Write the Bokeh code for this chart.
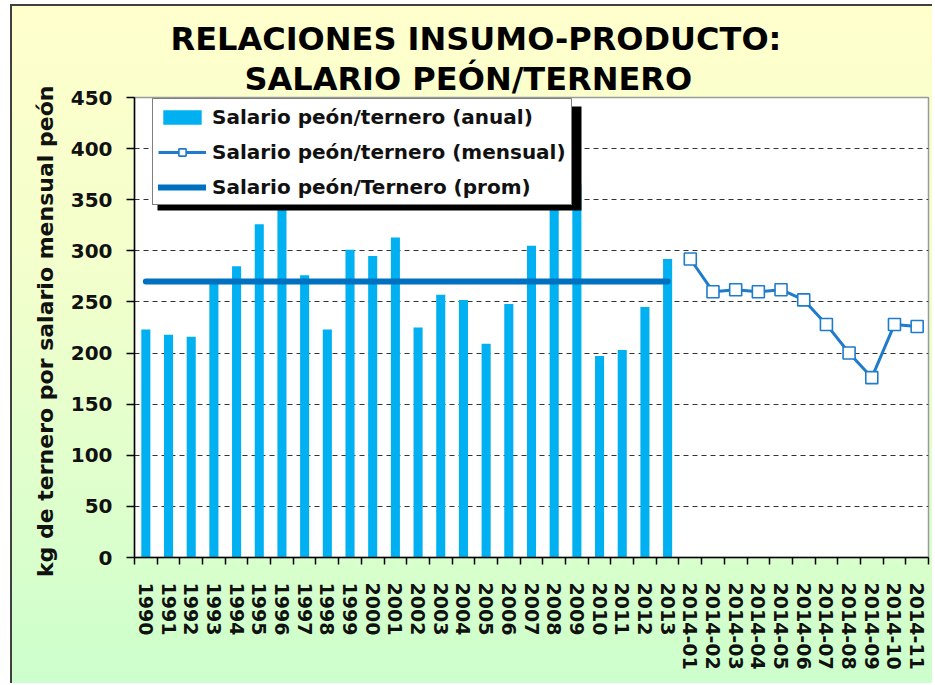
import numpy as np
from bokeh.plotting import figure
from bokeh.models import (Range1d, LinearAxis, FixedTicker, Legend, Title,
                          LegendItem, BoxAnnotation, InlineStyleSheet)
from bokeh.embed import file_html
from bokeh.resources import INLINE

# ---------------- data ----------------
years = [str(y) for y in range(1990, 2014)]
annual = [223, 218, 216, 268, 285, 326, 360, 276, 223, 301, 295, 313,
          225, 257, 252, 209, 248, 305, 380, 365, 197, 203, 245, 292]
months = ["2014-01", "2014-02", "2014-03", "2014-04", "2014-05", "2014-06",
          "2014-07", "2014-08", "2014-09", "2014-10", "2014-11"]
monthly = [292, 260, 262, 260, 262, 252, 228, 200, 176, 228, 226]
average = 270
categories = years + months
y_ticks = [0, 50, 100, 150, 200, 250, 300, 350, 400, 450]

title_line1 = "RELACIONES INSUMO-PRODUCTO:"
title_line2 = "SALARIO PEÓN/TERNERO"
y_title = "kg de ternero por  salario mensual peón"
lbl_annual = "Salario peón/ternero (anual)"
lbl_monthly = "Salario peón/ternero (mensual)"
lbl_avg = "Salario peón/Ternero (prom)"

FONT = "DejaVu Sans"
BAR = "#00B0F0"
LINE = "#1F7BCB"
AVG = "#0070C0"

# category -> slot centre on the x axis
n = len(categories)
slot = {c: i + 0.5 for i, c in enumerate(categories)}
x_years = [slot[c] for c in years]
x_months = [slot[c] for c in months]

p = figure(width=932, height=683,
           x_range=Range1d(0, n), y_range=Range1d(0, 450),
           x_axis_location=None,
           output_backend="svg", toolbar_location=None,
           min_border_left=134, min_border_right=4, min_border_top=97, min_border_bottom=126)

p.stylesheets = [InlineStyleSheet(css=""":host {
  background:
    linear-gradient(#404040, #404040) 10px 4px / 2px 100% no-repeat,
    linear-gradient(#404040, #404040) 10px 4px / 100% 2px no-repeat,
    linear-gradient(to bottom, #FFFFCC 0%, #F2FFCC 40%, #CCFFCC 100%) 10px 4px / 100% 100% no-repeat,
    white;
}""")]
p.border_fill_alpha = 0
p.background_fill_color = "white"
p.outline_line_color = "#9a9a9a"
p.outline_line_width = 1.5

# two-line title
p.title.visible = False
p.add_layout(Title(text=title_line2, align="left", offset=110, standoff=0,
                   text_font=FONT, text_font_style="bold", text_font_size="32px",
                   text_color="black"), "above")
p.add_layout(Title(text=title_line1, align="left", offset=36, standoff=0,
                   text_font=FONT, text_font_style="bold", text_font_size="32px",
                   text_color="black"), "above")

# x axis: labels at slot centres, tick marks at slot boundaries
xaxis = LinearAxis(ticker=FixedTicker(ticks=[slot[c] for c in categories],
                                      minor_ticks=list(range(n + 1))),
                   major_label_overrides={slot[c]: c for c in categories},
                   major_label_orientation="vertical",
                   major_tick_in=0, major_tick_out=0,
                   minor_tick_in=0, minor_tick_out=7,
                   minor_tick_line_color="black", minor_tick_line_width=1.5,
                   axis_line_color="black", axis_line_width=1.5,
                   major_label_standoff=18,
                   major_label_text_font=FONT, major_label_text_font_style="bold",
                   major_label_text_font_size="19px", major_label_text_color="#111111")
p.add_layout(xaxis, "below")

# y axis
p.yaxis.ticker = FixedTicker(ticks=y_ticks)
p.yaxis.major_tick_in = 0
p.yaxis.major_tick_out = 8
p.yaxis.minor_tick_out = 0
p.yaxis.minor_tick_in = 0
p.yaxis.axis_line_color = "black"
p.yaxis.axis_line_width = 1.5
p.yaxis.major_tick_line_width = 1.5
p.yaxis.major_label_standoff = 14
p.yaxis.major_label_text_font = FONT
p.yaxis.major_label_text_font_style = "bold"
p.yaxis.major_label_text_font_size = "20px"
p.yaxis.major_label_text_color = "#111111"
p.yaxis.axis_label = y_title
p.yaxis.axis_label_standoff = 10
p.yaxis.axis_label_text_font = FONT
p.yaxis.axis_label_text_font_style = "bold"
p.yaxis.axis_label_text_font_size = "22px"
p.yaxis.axis_label_text_color = "#111111"

p.xgrid.visible = False
p.ygrid.ticker = FixedTicker(ticks=y_ticks)
p.ygrid.grid_line_color = "#333333"
p.ygrid.grid_line_dash = "5 4"
p.ygrid.grid_line_width = 1.2

# glyphs
bars = p.vbar(x=x_years, top=annual, width=0.4, fill_color=BAR, line_color=None)
avg = p.line(x=x_years, y=[average] * len(years), line_color=AVG, line_width=6, line_cap="round")
mline = p.line(x=x_months, y=monthly, line_color=LINE, line_width=3)
mpts = p.scatter(x=x_months, y=monthly, marker="square", size=12, fill_color="white",
                 line_color=LINE, line_width=1.6)

# legend shadow
shadow = BoxAnnotation(left=23, right=23 + 424, bottom=347, top=347 + 104,
                       left_units="screen", right_units="screen",
                       bottom_units="screen", top_units="screen",
                       fill_color="black", fill_alpha=1, line_alpha=0)
p.add_layout(shadow)

legend = Legend(items=[LegendItem(label=lbl_annual, renderers=[bars]),
                       LegendItem(label=lbl_monthly, renderers=[mline, mpts]),
                       LegendItem(label=lbl_avg, renderers=[avg])],
                location=(18, 352), orientation="vertical",
                label_text_font=FONT, label_text_font_style="bold",
                label_text_font_size="20px", label_text_color="#111111",
                border_line_color="black", border_line_width=1.5,
                background_fill_color="white", background_fill_alpha=1,
                padding=5, spacing=10, label_height=25, glyph_height=18, glyph_width=48,
                label_standoff=6, margin=0)
p.add_layout(legend)

open("out.html", "w").write(file_html(p, INLINE))
